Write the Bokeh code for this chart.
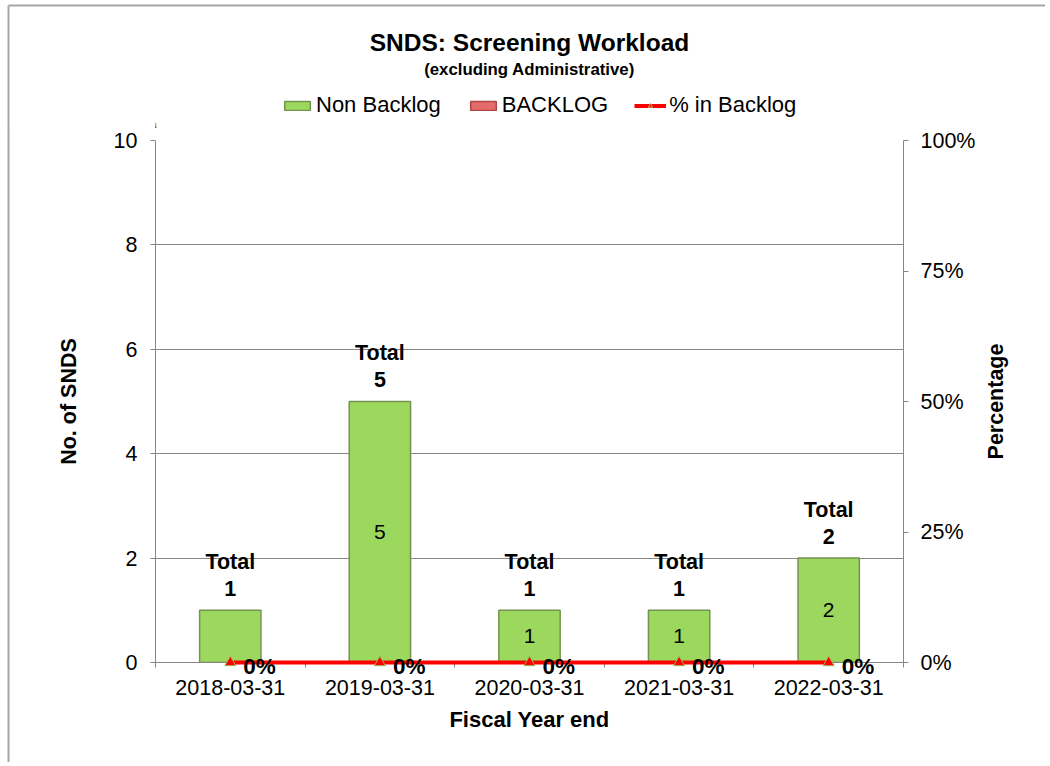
import math
from bokeh.plotting import figure
from bokeh.layouts import column
from bokeh.models import (Range1d, LinearAxis, FixedTicker, Legend, LegendItem,
                          ColumnDataSource, NumeralTickFormatter)
from bokeh.core.properties import value
from bokeh.embed import file_html
from bokeh.resources import INLINE

categories = ["2018-03-31", "2019-03-31", "2020-03-31", "2021-03-31", "2022-03-31"]
non_backlog = [1, 5, 1, 1, 2]
backlog = [0, 0, 0, 0, 0]
pct_backlog = [0.0, 0.0, 0.0, 0.0, 0.0]
inner_labels = ["", "5", "1", "1", "2"]
pct_labels = ["0%", "0%", "0%", "0%", "0%"]
left_ticks = [0, 2, 4, 6, 8, 10]
right_ticks = [0, 0.25, 0.5, 0.75, 1.0]
title_text = "SNDS: Screening Workload"
subtitle_text = "(excluding Administrative)"
legend_labels = ["Non Backlog", "BACKLOG", "% in Backlog"]

FONT = "Liberation Sans"
GRAY = "#868686"
BORDER = "#a6a6a6"
GREEN = "#9CD75E"
GREEN_EDGE = "#74934F"
RED_BAR = "#E46C6C"
RED_EDGE = "#B04545"

W = 1045
HEAD_H = 128
MAIN_H = 634
FRAME_L, FRAME_R = 155, 903

n = len(categories)
xs = [i + 0.5 for i in range(n)]
totals = [a + b for a, b in zip(non_backlog, backlog)]
total_labels = ["Total\n%d" % t for t in totals]

src = ColumnDataSource(dict(x=xs, nb=non_backlog, bl=backlog, tot=totals,
                            pct=pct_backlog, inner=inner_labels, inner_y=[v / 2 for v in non_backlog],
                            tl=total_labels, pl=pct_labels))

# ---------------- header: title, subtitle, legend ----------------
h = figure(width=W, height=HEAD_H, output_backend="svg", toolbar_location=None,
           x_range=Range1d(FRAME_L, FRAME_R), y_range=Range1d(0, HEAD_H),
           x_axis_type=None, y_axis_type=None,
           min_border_left=FRAME_L, min_border_right=W - FRAME_R,
           min_border_top=0, min_border_bottom=0)
h.outline_line_color = None
h.xgrid.grid_line_color = None
h.ygrid.grid_line_color = None
h.background_fill_color = "white"
h.border_fill_color = "white"

cx = (FRAME_L + FRAME_R) / 2
h.text(x=[cx], y=[HEAD_H - 42], text=[title_text], text_align="center", text_baseline="middle",
       text_font=value(FONT), text_font_style="bold", text_font_size="24.5px", text_color="black")
h.text(x=[cx], y=[HEAD_H - 69], text=[subtitle_text], text_align="center", text_baseline="middle",
       text_font=value(FONT), text_font_style="bold", text_font_size="16.8px", text_color="black")
# chart-area border (top and left edges)
h.segment(x0=[8, 8], y0=[HEAD_H - 5, 0], x1=[W + 10, 8], y1=[HEAD_H - 5, HEAD_H - 5],
          line_color=BORDER, line_width=2, level="overlay")

# legend proxies (same data, lying outside the header's visible range)
d_nb = h.vbar(x="x", top="nb", width=0.4, source=src, fill_color=GREEN,
              line_color=GREEN_EDGE, line_width=1.5)
d_bl = h.vbar(x="x", top="tot", bottom="nb", width=0.4, source=src, fill_color=RED_BAR,
              line_color=RED_EDGE, line_width=1.5)
d_ln = h.line(x="x", y="pct", source=src, line_color="#FF0000", line_width=4)
d_pt = h.scatter(x="x", y="pct", source=src, marker="triangle", size=10, fill_color="#FF0000",
                 line_color="#9BBB59", line_width=1)
legend = Legend(items=[LegendItem(label=legend_labels[0], renderers=[d_nb]),
                       LegendItem(label=legend_labels[1], renderers=[d_bl]),
                       LegendItem(label=legend_labels[2], renderers=[d_ln, d_pt])],
                orientation="horizontal", location=(126, 10),
                label_text_font=FONT, label_text_font_size="22px", label_text_color="black",
                label_standoff=3, glyph_width=32, glyph_height=11, spacing=26,
                padding=2, margin=0, border_line_color=None, background_fill_alpha=0)
h.add_layout(legend)

# ---------------- main chart ----------------
p = figure(width=W, height=MAIN_H, output_backend="svg", toolbar_location=None,
           x_range=Range1d(0, n), y_range=Range1d(0, 10),
           min_border_left=FRAME_L, min_border_right=W - FRAME_R,
           min_border_top=12, min_border_bottom=100)
p.extra_y_ranges = {"pct": Range1d(0, 1)}
p.extra_x_ranges = {"frac": Range1d(0, 1)}
p.outline_line_color = None
p.background_fill_color = "white"
p.border_fill_color = "white"

# bars
p.vbar(x="x", top="nb", bottom=0, width=0.41, source=src,
       fill_color=GREEN, line_color=GREEN_EDGE, line_width=1.5)
p.vbar(x="x", top="tot", bottom="nb", width=0.41, source=src,
       fill_color=RED_BAR, line_color=None)

# percentage line
p.line(x="x", y="pct", source=src, y_range_name="pct", line_color="#FF0000",
       line_width=4, level="overlay")
p.scatter(x="x", y="pct", source=src, y_range_name="pct", marker="triangle",
          size=11, fill_color="#FF0000", line_color="#9BBB59", line_width=1, level="overlay")

# labels
p.text(x="x", y="tot", text="tl", source=src, text_align="center", text_baseline="bottom",
       y_offset=-9, text_font=value(FONT), text_font_style="bold", text_font_size="21.5px",
       text_line_height=1.15, text_color="black")
p.text(x="x", y="inner_y", text="inner", source=src, text_align="center", text_baseline="middle",
       text_font=value(FONT), text_font_size="21px", text_color="black")
p.text(x="x", y="pct", text="pl", source=src, y_range_name="pct",
       text_align="left", text_baseline="middle", x_offset=13, y_offset=4,
       text_font=value(FONT), text_font_style="bold", text_font_size="22.5px",
       text_color="black", level="overlay")
p.text(x=[1.123], y=[0.5], text=["Percentage"], x_range_name="frac", y_range_name="pct",
       angle=math.pi / 2, text_align="center", text_baseline="middle",
       text_font=value(FONT), text_font_style="bold", text_font_size="21.5px",
       text_color="black", level="overlay")
# left edge of chart-area border
bx = (8 - FRAME_L) / (FRAME_R - FRAME_L)
p.segment(x0=[bx], y0=[1.3], x1=[bx], y1=[-0.3], x_range_name="frac", y_range_name="pct",
          line_color=BORDER, line_width=2, level="overlay")

# axes
ax = p.xaxis[0]
ax.ticker = FixedTicker(ticks=xs, minor_ticks=list(range(n + 1)))
ax.major_label_overrides = {x: c for x, c in zip(xs, categories)}
ax.major_tick_out = 0
ax.major_tick_in = 0
ax.minor_tick_out = 5
ax.minor_tick_in = 0
ax.minor_tick_line_color = GRAY
ax.axis_line_color = GRAY
ax.major_label_standoff = 12
ax.major_label_text_font = FONT
ax.major_label_text_font_size = "21.5px"
ax.major_label_text_color = "black"
ax.axis_label = "Fiscal Year end"
ax.axis_label_text_font = FONT
ax.axis_label_text_font_style = "bold"
ax.axis_label_text_font_size = "22px"
ax.axis_label_text_color = "black"
ax.axis_label_standoff = 9

ay = p.yaxis[0]
ay.ticker = FixedTicker(ticks=left_ticks, minor_ticks=[])
ay.major_tick_out = 5
ay.major_tick_in = 0
ay.major_tick_line_color = GRAY
ay.axis_line_color = GRAY
ay.major_label_standoff = 13
ay.major_label_text_font = FONT
ay.major_label_text_font_size = "21.5px"
ay.major_label_text_color = "black"
ay.axis_label = "No. of SNDS"
ay.axis_label_text_font = FONT
ay.axis_label_text_font_style = "bold"
ay.axis_label_text_font_size = "21.5px"
ay.axis_label_text_color = "black"
ay.axis_label_standoff = 30

ar = LinearAxis(y_range_name="pct", ticker=FixedTicker(ticks=right_ticks, minor_ticks=[]),
                formatter=NumeralTickFormatter(format="0%"))
ar.major_tick_out = 5
ar.major_tick_in = 0
ar.major_tick_line_color = GRAY
ar.axis_line_color = GRAY
ar.major_label_standoff = 12
ar.major_label_text_font = FONT
ar.major_label_text_font_size = "21.5px"
ar.major_label_text_color = "black"
p.add_layout(ar, "right")

p.xgrid.grid_line_color = None
p.ygrid.grid_line_color = GRAY
p.ygrid.ticker = FixedTicker(ticks=left_ticks[1:], minor_ticks=[])

layout = column(h, p, spacing=0)
open("out.html", "w").write(file_html(layout, INLINE))
